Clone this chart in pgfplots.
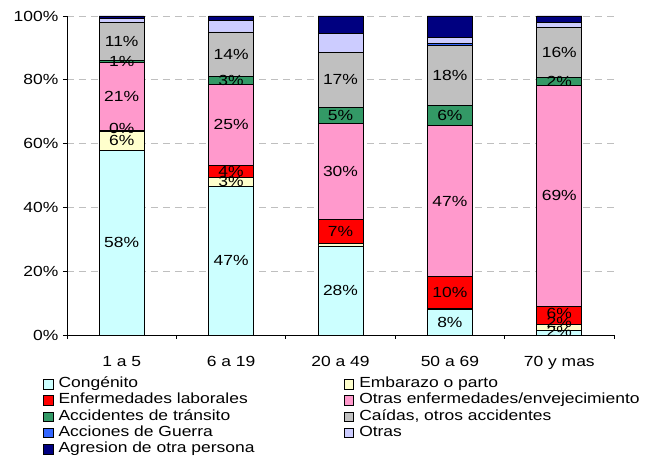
\documentclass[border=0pt]{standalone}
\usepackage{pgfplots}
\pgfplotsset{compat=1.18}
\usepackage{fontspec}
\setmainfont{Liberation Sans}[FakeStretch=1.19]

\definecolor{cCong}{HTML}{CCFFFF}
\definecolor{cEmb}{HTML}{FFFFCC}
\definecolor{cEnf}{HTML}{FF0000}
\definecolor{cOEnf}{HTML}{FF99CC}
\definecolor{cAcc}{HTML}{339966}
\definecolor{cCaid}{HTML}{C0C0C0}
\definecolor{cGue}{HTML}{3366FF}
\definecolor{cOtr}{HTML}{CCCCFF}
\definecolor{cAgr}{HTML}{000080}

\newcommand{\lbl}{\fontsize{11}{13}\selectfont}

\begin{document}
\begin{tikzpicture}
\path[use as bounding box] (-50.25pt,-93pt) rectangle (434.25pt,251.25pt);
\begin{axis}[
  scale only axis, width=410.25pt, height=239.25pt,
  ybar stacked, bar width=33.75pt,
  xmin=-0.5, xmax=4.5, ymin=0, ymax=100,
  axis x line=bottom, axis y line=left,
  axis line style={-, black, line width=0.6pt},
  tick align=outside, major tick length=3pt,
  tick style={black, line width=0.6pt},
  xtick={0,...,4},
  xticklabels={1 a 5,6 a 19,20 a 49,50 a 69,70 y mas},
  xticklabel style={yshift=-9.5pt},
  major x tick style={draw=none},
  minor xtick={-0.5,0.5,...,4.5},
  minor tick length=3pt,
  minor x tick style={black, line width=0.6pt},
  ytick={0,20,...,100},
  yticklabel={\pgfmathprintnumber{\tick}\%},
  /pgf/number format/assume math mode=true,
  ticklabel style={font=\lbl},
  ymajorgrids,
  major grid style={dash pattern=on 5pt off 4pt, draw=black!25, line width=0.6pt},
  every axis plot post/.append style={
    draw=black, line width=0.6pt,
    legend image code/.code={\draw[##1, line width=0.5pt] (0pt,-3.5pt) rectangle (7pt,3.5pt);}},
  legend columns=2,
  legend cell align=left,
  legend style={draw=none, fill=none, at={(-0.0439,-0.128)}, anchor=north west,
    inner sep=0pt, row sep=0pt, /tikz/column sep=0pt, font=\lbl,
    nodes={inner xsep=4pt, inner ysep=0pt, text height=8.6pt, text depth=3.6pt}},
]
\addplot[fill=cCong] coordinates {(0,57.8) (1,46.6) (2,27.9) (3,7.9) (4,1.3)};
\addlegendentry{\makebox[210pt][l]{Congénito}}
\addplot[fill=cEmb] coordinates {(0,6.1) (1,2.8) (2,0.9) (3,0.5) (4,2.1)};
\addlegendentry{Embarazo o parto}
\addplot[fill=cEnf] coordinates {(0,0.2) (1,3.8) (2,7.4) (3,9.9) (4,5.6)};
\addlegendentry{\makebox[210pt][l]{Enfermedades laborales}}
\addplot[fill=cOEnf] coordinates {(0,21.2) (1,25.3) (2,30.0) (3,47.4) (4,69.1)};
\addlegendentry{Otras enfermedades/envejecimiento}
\addplot[fill=cAcc] coordinates {(0,0.9) (1,2.6) (2,5.2) (3,6.3) (4,2.6)};
\addlegendentry{\makebox[210pt][l]{Accidentes de tránsito}}
\addplot[fill=cCaid] coordinates {(0,11.7) (1,13.9) (2,17.2) (3,18.7) (4,15.6)};
\addlegendentry{Caídas, otros accidentes}
\addplot[fill=cGue] coordinates {(0,0) (1,0) (2,0) (3,0.7) (4,0)};
\addlegendentry{\makebox[210pt][l]{Acciones de Guerra}}
\addplot[fill=cOtr] coordinates {(0,1.4) (1,3.5) (2,5.9) (3,1.9) (4,1.8)};
\addlegendentry{Otras}
\addplot[fill=cAgr] coordinates {(0,0.7) (1,1.5) (2,5.5) (3,6.7) (4,1.9)};
\addlegendentry{\makebox[210pt][l]{Agresion de otra persona}}
\end{axis}
% data labels, centred in their segments
\begin{axis}[
  scale only axis, width=410.25pt, height=239.25pt,
  xmin=-0.5, xmax=4.5, ymin=0, ymax=100, hide axis,
]
\addplot[draw=none, mark=none, nodes near coords, point meta=explicit symbolic,
  every node near coord/.style={anchor=center, text=black, inner sep=0pt, font=\lbl}]
coordinates {
  (0,28.9) [58\%] (0,60.9) [6\%] (0,64.6) [0\%] (0,74.7) [21\%] (0,85.8) [1\%] (0,92.1) [11\%]
  (1,23.3) [47\%] (1,48.0) [3\%] (1,51.3) [4\%] (1,65.9) [25\%] (1,79.8) [3\%] (1,88.1) [14\%]
  (2,13.9) [28\%] (2,32.5) [7\%] (2,51.2) [30\%] (2,68.8) [5\%] (2,80.0) [17\%]
  (3,4.0) [8\%] (3,13.4) [10\%] (3,42.0) [47\%] (3,68.9) [6\%] (3,81.4) [18\%]
  (4,1.0) [2\%] (4,4.0) [2\%] (4,6.6) [6\%] (4,43.6) [69\%] (4,79.4) [2\%] (4,88.6) [16\%]
};
\end{axis}
\end{tikzpicture}
\end{document}
